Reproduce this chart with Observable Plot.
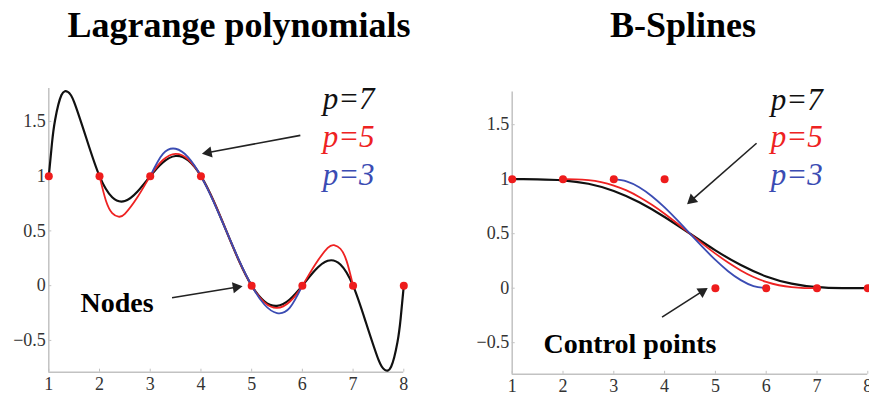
<!DOCTYPE html>
<html>
<head>
<meta charset="utf-8">
<script src="https://cdn.jsdelivr.net/npm/d3@7"></script>
<script src="https://cdn.jsdelivr.net/npm/@observablehq/plot@0.6"></script>
<style>
  html, body { margin: 0; padding: 0; background: #fff; }
  #wrap { position: relative; width: 869px; height: 395px; overflow: hidden; background: #fff; }
  .title { position: absolute; top: 7px; font-family: "Liberation Serif", "Times New Roman", serif; font-weight: bold; font-size: 36px; line-height: 36px; text-align: center; color: #000; }
  .panel { position: absolute; top: 60px; }
</style>
</head>
<body>
<div id="wrap">
  <div class="title" style="left:0px;width:478px;">Lagrange polynomials</div>
  <div class="title" style="left:533px;width:300px;">B-Splines</div>
  <div class="panel" id="left" style="left:0px;"></div>
  <div class="panel" id="right" style="left:440px;"></div>
</div>
<script>
// ---- data ----
const ticksX = [1, 2, 3, 4, 5, 6, 7, 8];
const ticksY = [-0.5, 0, 0.5, 1, 1.5];

const nodeX = [1, 2, 3, 4, 5, 6, 7, 8];
const nodeY = [1, 1, 1, 1, 0, 0, 0, 0];
const ctrlX = [1, 2, 3, 4, 5, 6, 7, 8];
const ctrlY = [1, 1, 1, 1, 0, 0, 0, 0];

// Lagrange p=7 (black)
const lag7X = [1, 1.0625, 1.125, 1.25, 1.375, 1.5, 1.75, 2, 2.25, 2.5, 2.75, 3, 3.25, 3.5, 3.75, 4, 4.25, 4.5, 4.75, 5, 5.25, 5.5, 5.75, 6, 6.25, 6.5, 6.75, 7, 7.25, 7.5, 7.625, 7.75, 7.875, 7.9375, 8];
const lag7Y = [1, 1.300, 1.515, 1.740, 1.769, 1.676, 1.332, 1, 0.807, 0.773, 0.860, 1, 1.126, 1.184, 1.143, 1, 0.773, 0.5, 0.227, 0, -0.143, -0.184, -0.126, 0, 0.140, 0.227, 0.193, 0, -0.332, -0.676, -0.769, -0.740, -0.515, -0.300, 0];
// Lagrange p=5 (red)
const lag5X = [2, 2.125, 2.25, 2.375, 2.5, 2.75, 3, 3.25, 3.5, 3.75, 4, 4.25, 4.5, 4.75, 5, 5.25, 5.5, 5.75, 6, 6.25, 6.5, 6.625, 6.75, 6.875, 7];
const lag5Y = [1, 0.778, 0.663, 0.630, 0.656, 0.809, 1, 1.147, 1.203, 1.152, 1, 0.771, 0.5, 0.229, 0, -0.152, -0.203, -0.147, 0, 0.191, 0.344, 0.370, 0.337, 0.222, 0];
// Lagrange p=3 (blue)
const lag3X = [3, 3.25, 3.5, 3.75, 4, 4.25, 4.5, 4.75, 5, 5.25, 5.5, 5.75, 6];
const lag3Y = [1, 1.203, 1.25, 1.172, 1, 0.766, 0.5, 0.234, 0, -0.172, -0.25, -0.203, 0];

// B-spline p=7 (black)
const bs7X = [1, 1.5, 2, 2.5, 3, 3.5, 4, 4.5, 5, 5.5, 6, 6.5, 7, 7.5, 8];
const bs7Y = [1, 0.999, 0.990, 0.958, 0.892, 0.788, 0.653, 0.5, 0.347, 0.212, 0.108, 0.042, 0.010, 0.001, 0];
// B-spline p=5 (red)
const bs5X = [2, 2.25, 2.5, 2.75, 3, 3.25, 3.5, 3.75, 4, 4.25, 4.5, 4.75, 5, 5.25, 5.5, 5.75, 6, 6.25, 6.5, 6.75, 7];
const bs5Y = [1, 0.999, 0.991, 0.973, 0.942, 0.897, 0.837, 0.765, 0.683, 0.593, 0.5, 0.407, 0.317, 0.235, 0.163, 0.103, 0.058, 0.027, 0.009, 0.001, 0];
// B-spline p=3 (blue)
const bs3X = [3, 3.25, 3.5, 3.75, 4, 4.25, 4.5, 4.75, 5, 5.25, 5.5, 5.75, 6];
const bs3Y = [1, 0.980, 0.926, 0.844, 0.741, 0.624, 0.5, 0.376, 0.259, 0.156, 0.074, 0.020, 0];

// legend labels
const legendText = ["p=7", "p=5", "p=3"];
const legendColor = ["#111111", "#ee2222", "#3b4cb3"];
const legendLX = 6.40, legendLY = [1.609, 1.262, 0.923];
const legendRX = 6.09, legendRY = [1.639, 1.291, 0.950];

// annotations
const arrowsL = [{x1: 5.96, y1: 1.372, x2: 4.03, y2: 1.205}, {x1: 3.43, y1: -0.11, x2: 4.81, y2: -0.005}];
const arrowsR = [{x1: 5.81, y1: 1.330, x2: 4.45, y2: 0.774}, {x1: 3.95, y1: -0.266, x2: 4.84, y2: 0.0}];
const noteL = [{x: 1.625, y: -0.236, t: "Nodes"}];
const noteR = [{x: 1.616, y: -0.590, t: "Control points"}];

// ---- helpers ----
const pts = (xs, ys) => xs.map((x, i) => ({x, y: ys[i]}));
const yDomain = [-0.79, 1.8];
const FONT = '"Liberation Serif", "Times New Roman", serif';
const AXIS = "#c2c2c2";
const RED = "#ee2222", BLUE = "#3b4cb3", BLACK = "#111111";
const fmt = d => (d < 0 ? "\u2212" : "") + String(Math.abs(d));

function panel({width, marginLeft, marginRight, marginTop, marginBottom, black, red, blue, dotsX, dotsY, legendX, legendY, arrows, notes}) {
  const height = 335;
  const legend = legendText.map((t, i) => ({x: legendX, y: legendY[i], t, c: legendColor[i]}));
  // pixels per data unit, used to shape the filled arrowheads
  const kx = (width - marginLeft - marginRight) / 7;
  const ky = (height - marginTop - marginBottom) / (yDomain[1] - yDomain[0]);
  const back = 6; // px from tip to head centre
  const heads = arrows.map(a => {
    const dx = (a.x2 - a.x1) * kx, dy = -(a.y2 - a.y1) * ky;
    const L = Math.hypot(dx, dy), ux = dx / L, uy = dy / L;
    return {
      x: a.x2 - ux * back / kx, y: a.y2 + uy * back / ky,
      rot: Math.atan2(ux, -uy) * 180 / Math.PI,
      x1: a.x1, y1: a.y1
    };
  });
  return Plot.plot({
    width, height, marginLeft, marginRight, marginTop, marginBottom,
    style: {fontFamily: FONT, fontSize: "18px", color: "#333", background: "transparent", overflow: "visible"},
    x: {domain: [1, 8], label: null},
    y: {domain: yDomain, label: null},
    marks: [
      Plot.ruleX([1], {stroke: AXIS, strokeWidth: 1.5}),
      Plot.ruleY([yDomain[0]], {stroke: AXIS, strokeWidth: 1.5}),
      Plot.axisY({ticks: ticksY, tickSize: -3, tickFormat: () => "", stroke: AXIS, label: null}),
      Plot.axisX({ticks: ticksX, tickSize: -3, tickFormat: () => "", stroke: AXIS, label: null}),
      Plot.axisY({ticks: ticksY, tickSize: 0, tickPadding: 3, tickFormat: fmt, label: null, fill: "#333", fontSize: 18, fontFamily: FONT}),
      Plot.axisX({ticks: ticksX, tickSize: 0, tickPadding: 5, tickFormat: fmt, label: null, fill: "#333", fontSize: 18, fontFamily: FONT}),
      Plot.line(black, {x: "x", y: "y", stroke: BLACK, strokeWidth: 2.2, curve: "natural"}),
      Plot.line(red, {x: "x", y: "y", stroke: RED, strokeWidth: 1.8, curve: "natural"}),
      Plot.line(blue, {x: "x", y: "y", stroke: BLUE, strokeWidth: 1.8, curve: "natural"}),
      Plot.dot(pts(dotsX, dotsY), {x: "x", y: "y", r: 4, fill: "#ee1c1c", stroke: "none"}),
      Plot.link(heads, {x1: "x1", y1: "y1", x2: "x", y2: "y", stroke: "#222", strokeWidth: 1.6}),
      Plot.dot(heads, {x: "x", y: "y", symbol: "triangle", r: 4.2, rotate: "rot", fill: "#222", stroke: "none"}),
      Plot.text(legend, {x: "x", y: "y", text: "t", fill: "c", fontSize: 31, fontStyle: "italic", fontFamily: FONT, textAnchor: "start", lineAnchor: "bottom"}),
      Plot.text(notes, {x: "x", y: "y", text: "t", fill: "#000", fontSize: 28, fontWeight: "bold", fontFamily: FONT, textAnchor: "start", lineAnchor: "bottom"})
    ]
  });
}

document.getElementById("left").append(panel({
  width: 440, marginLeft: 48.3, marginRight: 36.7, marginTop: 28, marginBottom: 23.3,
  black: pts(lag7X, lag7Y), red: pts(lag5X, lag5Y), blue: pts(lag3X, lag3Y),
  dotsX: nodeX, dotsY: nodeY, legendX: legendLX, legendY: legendLY, arrows: arrowsL, notes: noteL
}));
document.getElementById("right").append(panel({
  width: 429, marginLeft: 71.7, marginRight: 1.7, marginTop: 31.5, marginBottom: 21.2,
  black: pts(bs7X, bs7Y), red: pts(bs5X, bs5Y), blue: pts(bs3X, bs3Y),
  dotsX: ctrlX, dotsY: ctrlY, legendX: legendRX, legendY: legendRY, arrows: arrowsR, notes: noteR
}));
</script>
</body>
</html>
